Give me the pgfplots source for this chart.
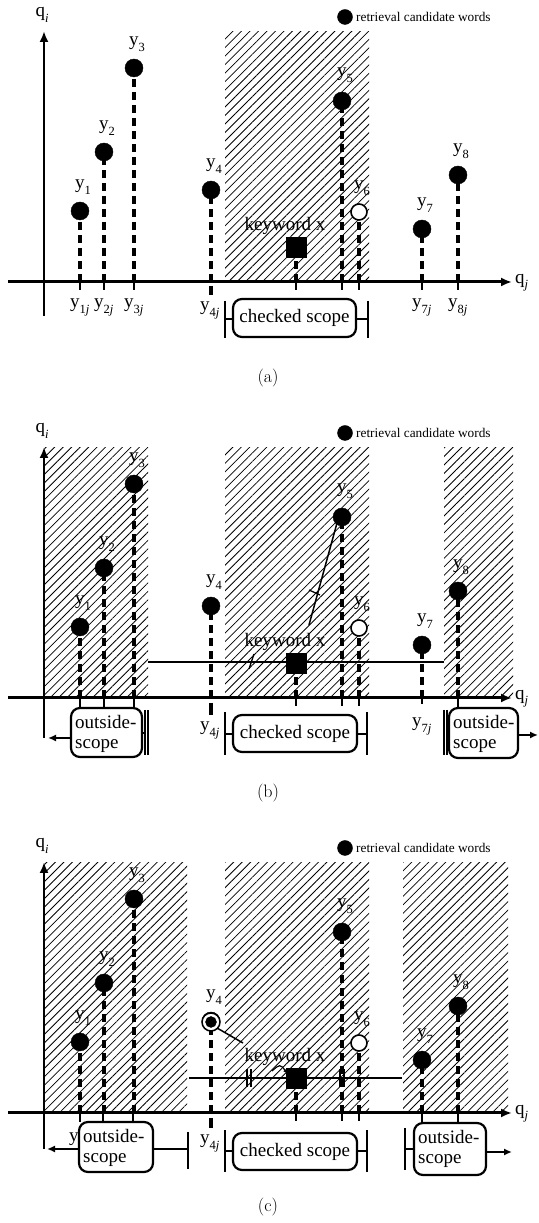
\documentclass[border=0pt]{standalone}
\usepackage{fontspec}
\newfontfamily\tms{Liberation Serif}
\usepackage{pgfplots}
\usepackage{pgfplotstable}
\pgfplotsset{compat=1.18}
\usetikzlibrary{patterns.meta,arrows.meta}

\newcommand{\sub}[1]{\raisebox{-0.28em}{\fontsize{12.5}{13}\selectfont #1}}
\newcommand{\lab}[1]{y\sub{#1}}
\newcommand{\tj}[1]{y\sub{#1\textit{j}}}

\pgfplotstableread{
x h
36 71
60 130
90 214
167 92
298 181
378 53
414 107
}\candidates
\pgfplotstableread{
x h
252 35
}\keyword
\pgfplotstableread{
x h
315 70
}\checkedword

\tikzset{
 lab/.style={font=\tms\fontsize{19}{21}\selectfont, inner sep=0pt},
 box/.style={line width=2.2pt, rounded corners=9pt, fill=white},
 brk/.style={line width=2.2pt},
 drop/.style={line width=3.6pt, dash pattern=on 8pt off 5pt},
 hatch/.style={draw=none, pattern={Lines[angle=45,distance=6pt,line width=0.8pt]}},
}
\pgfplotsset{panel/.style={anchor=south west, scale only axis, width=538pt,
  xmin=-44, xmax=494, hide axis, clip=false}}

\newcommand{\qaxes}[1]{%
 \draw[line width=3pt,-{Latex[length=11pt,width=9pt]}] (axis cs:-36,0) -- (axis cs:468,0);
 \draw[line width=2.6pt,-{Latex[length=11pt,width=9pt]}] (axis cs:0,#1) -- (axis cs:0,251);
 \node[lab,anchor=west] at (axis cs:471,-1) {q\sub{\textit{j}}};
 \node[lab] at (axis cs:-2,267) {q\sub{\textit{i}}};
 \addplot[only marks, mark=*, mark size=7.5pt, black] coordinates {(301,265)};
 \node[font=\tms\fontsize{13.3}{14}\selectfont, anchor=west, inner sep=0pt] at (axis cs:312,265) {retrieval candidate words};
}
\newcommand{\drops}{%
 \addplot[ycomb, drop, black] table {\candidates};
 \addplot[ycomb, drop, black] table {\checkedword};
 \addplot[ycomb, drop, black] table {\keyword};
}
\newcommand{\points}{%
 \addplot[only marks, mark=*, mark size=9pt, black] table {\candidates};
 \addplot[only marks, mark=*, mark size=8pt, mark options={fill=white, draw=black, line width=1.6pt}] table {\checkedword};
 \addplot[only marks, mark=square*, mark size=10pt, black] table {\keyword};
}
\newcommand{\ylabels}{%
 \node[lab,anchor=base west] at (axis cs:31,93) {\lab{1}};
 \node[lab,anchor=base west] at (axis cs:55,152) {\lab{2}};
 \node[lab,anchor=base west] at (axis cs:85,236) {\lab{3}};
 \node[lab,anchor=base west] at (axis cs:162,114) {\lab{4}};
 \node[lab,anchor=base west] at (axis cs:293,205) {\lab{5}};
 \node[lab,anchor=base west] at (axis cs:310,92) {\lab{6}};
 \node[lab,anchor=base west] at (axis cs:373,75) {\lab{7}};
 \node[lab,anchor=base west] at (axis cs:409,129) {\lab{8}};
 \node[lab] at (axis cs:241,56) {keyword x};
}

\begin{document}
\begin{tikzpicture}
\useasboundingbox (0,0) rectangle (538pt,1223pt);

% ---------------- (a)
\begin{axis}[panel, at={(0pt,815pt)}, height=408pt, ymin=-126, ymax=282]
\addplot[hatch] coordinates {(181,0) (181,250) (325,250) (325,0)} -- cycle;
\drops
\addplot[ycomb, line width=2pt, black] coordinates {(36,-8) (60,-8) (90,-8) (252,-8) (298,-8) (315,-8) (378,-8) (414,-8)};
\addplot[line width=3.6pt, black] coordinates {(167,-4) (167,-13)};
\qaxes{-34}
\points
\ylabels
\node[lab,anchor=base west] at (axis cs:26,-26) {\tj{1}};
\node[lab,anchor=base west] at (axis cs:50,-26) {\tj{2}};
\node[lab,anchor=base west] at (axis cs:80,-26) {\tj{3}};
\node[lab,anchor=base west] at (axis cs:156,-29) {\tj{4}};
\node[lab,anchor=base west] at (axis cs:368,-26) {\tj{7}};
\node[lab,anchor=base west] at (axis cs:404,-26) {\tj{8}};
\draw[box] (axis cs:189,-17) rectangle (axis cs:312,-55);
\node[lab] at (axis cs:250.5,-36) {checked scope};
\draw[brk] (axis cs:181,-19) -- (axis cs:181,-56);
\draw[brk] (axis cs:181,-37) -- (axis cs:189,-37);
\draw[brk] (axis cs:324,-19) -- (axis cs:324,-56);
\draw[brk] (axis cs:312,-37) -- (axis cs:324,-37);
\node[font=\fontsize{18}{20}\selectfont] at (axis cs:224,-96) {(a)};
\end{axis}

% ---------------- (b)
\begin{axis}[panel, at={(0pt,400pt)}, height=415pt, ymin=-125, ymax=290]
\addplot[hatch] coordinates {(0,0) (0,250) (104,250) (104,0)} -- cycle;
\addplot[hatch] coordinates {(181,0) (181,250) (325,250) (325,0)} -- cycle;
\addplot[hatch] coordinates {(400,0) (400,250) (469,250) (469,0)} -- cycle;
\drops
\addplot[ycomb, line width=2pt, black] coordinates {(252,-8) (298,-8) (315,-8) (378,-6)};
\addplot[ycomb, line width=1.8pt, black] coordinates {(36,-10) (60,-10) (90,-10) (414,-10)};
\addplot[line width=3.6pt, black] coordinates {(167,-5) (167,-17)};
\addplot[line width=1.3pt, black] coordinates {(104,36) (400,36)};
\draw[line width=1.3pt] (axis cs:205,29) -- (axis cs:210,44);
\draw[line width=1.5pt] (axis cs:265,73) -- (axis cs:293,175);
\draw[line width=1.3pt] (axis cs:265,108) -- (axis cs:276,103);
\qaxes{-40}
\draw[line width=2pt,-{Latex[length=8pt,width=7pt]}] (axis cs:27,-40) -- (axis cs:4,-40);
\draw[line width=2pt,-{Latex[length=8pt,width=7pt]}] (axis cs:474,-37) -- (axis cs:494,-37);
\points
\ylabels
\node[lab,anchor=base west] at (axis cs:156,-33) {\tj{4}};
\node[lab,anchor=base west] at (axis cs:368,-29) {\tj{7}};
\draw[box] (axis cs:27,-10) rectangle (axis cs:98,-59);
\node[lab,anchor=west,align=left,font=\tms\fontsize{19}{20}\selectfont] at (axis cs:31,-36) {outside-\\scope};
\draw[brk] (axis cs:101,-12) -- (axis cs:101,-57);
\draw[brk] (axis cs:104,-12) -- (axis cs:104,-57);
\draw[brk] (axis cs:98,-35) -- (axis cs:101,-35);
\draw[box] (axis cs:189,-17) rectangle (axis cs:313,-54);
\node[lab] at (axis cs:251,-35.5) {checked scope};
\draw[brk] (axis cs:181,-14) -- (axis cs:181,-57);
\draw[brk] (axis cs:181,-36) -- (axis cs:189,-36);
\draw[brk] (axis cs:323,-14) -- (axis cs:323,-57);
\draw[brk] (axis cs:313,-36) -- (axis cs:323,-36);
\draw[box] (axis cs:405,-10) rectangle (axis cs:474,-60);
\node[lab,anchor=west,align=left,font=\tms\fontsize{19}{20}\selectfont] at (axis cs:409,-36) {outside-\\scope};
\draw[brk] (axis cs:400,-12) -- (axis cs:400,-57);
\draw[brk] (axis cs:403,-12) -- (axis cs:403,-57);
\node[font=\fontsize{18}{20}\selectfont] at (axis cs:224,-95) {(b)};
\end{axis}

% ---------------- (c)
\begin{axis}[panel, at={(0pt,0pt)}, height=400pt, ymin=-110, ymax=290]
\addplot[hatch] coordinates {(0,0) (0,250) (143,250) (143,0)} -- cycle;
\addplot[hatch] coordinates {(181,0) (181,250) (325,250) (325,0)} -- cycle;
\addplot[hatch] coordinates {(359,0) (359,250) (464,250) (464,0)} -- cycle;
\drops
\addplot[ycomb, line width=2pt, black] coordinates {(252,-8) (298,-8) (315,-8)};
\addplot[ycomb, line width=1.8pt, black] coordinates {(36,-9) (59,-9) (89,-9) (378,-10) (414,-10)};
\addplot[line width=3.6pt, black] coordinates {(167,-5) (167,-15)};
\addplot[line width=1.3pt, black] coordinates {(145,35) (358,35)};
\draw[line width=1.3pt] (axis cs:203,26) -- (axis cs:203,44);
\draw[line width=1.3pt] (axis cs:207,26) -- (axis cs:207,44);
\draw[line width=1.3pt] (axis cs:296,26) -- (axis cs:296,44);
\draw[line width=1.3pt] (axis cs:300,26) -- (axis cs:300,44);
\draw[line width=1.5pt] (axis cs:173,85) -- (axis cs:199,70);
\draw[line width=1.2pt,-{Latex[length=5pt,width=4pt]}] (axis cs:228,42) .. controls (axis cs:236,49) .. (axis cs:244,39);
\qaxes{-36}
\points
\addplot[only marks, mark=*, mark size=9pt, mark options={fill=white, draw=black, line width=1.5pt}] coordinates {(167,91)};
\addplot[only marks, mark=*, mark size=5.5pt, black] coordinates {(167,91)};
\ylabels
\node[lab,anchor=base west] at (axis cs:25,-29) {y};
\node[lab,anchor=base west] at (axis cs:156,-31) {\tj{4}};
\draw[line width=2pt,-{Latex[length=8pt,width=7pt]}] (axis cs:35,-36) -- (axis cs:3,-36);
\draw[brk] (axis cs:109,-36) -- (axis cs:144,-36);
\draw[brk] (axis cs:144,-19) -- (axis cs:144,-56);
\draw[box] (axis cs:35,-9) rectangle (axis cs:109,-59);
\node[lab,anchor=west,align=left,font=\tms\fontsize{19}{20}\selectfont] at (axis cs:39,-35) {outside-\\scope};
\draw[box] (axis cs:189,-20) rectangle (axis cs:313,-57);
\node[lab] at (axis cs:251,-38.5) {checked scope};
\draw[brk] (axis cs:181,-17) -- (axis cs:181,-59);
\draw[brk] (axis cs:181,-38) -- (axis cs:189,-38);
\draw[brk] (axis cs:323,-17) -- (axis cs:323,-59);
\draw[brk] (axis cs:313,-38) -- (axis cs:323,-38);
\draw[line width=2pt,-{Latex[length=8pt,width=7pt]}] (axis cs:442,-39) -- (axis cs:468,-39);
\draw[brk] (axis cs:361,-15) -- (axis cs:361,-57);
\draw[brk] (axis cs:361,-36) -- (axis cs:370,-36);
\draw[box] (axis cs:370,-10) rectangle (axis cs:442,-62);
\node[lab,anchor=west,align=left,font=\tms\fontsize{19}{20}\selectfont] at (axis cs:374,-36) {outside-\\scope};
\node[font=\fontsize{18}{20}\selectfont] at (axis cs:224,-94) {(c)};
\end{axis}
\end{tikzpicture}
\end{document}
